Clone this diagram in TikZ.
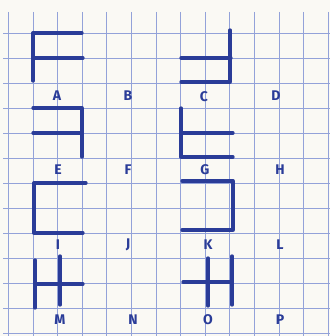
\documentclass[tikz,border=0pt]{standalone}
\usepackage{fontspec}
\setmainfont{Fira Sans}
\definecolor{paper}{HTML}{FAF9F4}
\definecolor{gridblue}{HTML}{93A2D9}
\definecolor{ink}{HTML}{2A3C98}
\tikzset{
  gridline/.style={draw=gridblue, line width=0.9pt},
  pen/.style={draw=ink, line width=3.3pt, line cap=round, line join=round},
  letter/.style={text=ink, font=\fontsize{14}{14}\selectfont\bfseries, inner sep=0pt}
}
\begin{document}
\begin{tikzpicture}[x=1pt,y=-1pt]
\fill[paper] (0,0) rectangle (330,336);
\useasboundingbox (0,0) rectangle (330,336);
% grid
\foreach \i in {0,...,13} {
  \draw[gridline] ({8.4+24.6*\i},12) -- ({8.4+24.6*\i},336);
}
\foreach \j in {1,...,13} {
  \draw[gridline] (3,{8+25*\j}) -- (330,{8+25*\j});
}
% A
\draw[pen] (82,33) -- (33,33) -- (33,81);
\draw[pen] (33,58) -- (83,58);
% E
\draw[pen] (33,108) -- (82,108) -- (82,157);
\draw[pen] (33,133) -- (82,133);
% C
\draw[pen] (230,30) -- (230,82) -- (181,82);
\draw[pen] (181,58) -- (231,58);
% G
\draw[pen] (181,108) -- (181,157) -- (233,157);
\draw[pen] (181,133) -- (233,133);
% I
\draw[pen] (86,183) -- (34,183) -- (34,233) -- (83,233);
% K
\draw[pen] (182,181) -- (233,181) -- (233,230) -- (182,230);
% M
\draw[pen] (35,260) -- (35,308);
\draw[pen] (60,256) -- (60,305);
\draw[pen] (35,284) -- (83,284);
% O
\draw[pen] (208,258) -- (208,306);
\draw[pen] (232,256) -- (232,305);
\draw[pen] (183,282) -- (232,282);
% labels
\node[letter] (lA) at (57,96) {A};
\node[letter] (lB) at (128,96) {B};
\node[letter] (lC) at (204,97) {C};
\node[letter] (lD) at (276,96) {D};
\node[letter] (lE) at (58,170) {E};
\node[letter] (lF) at (128,170) {F};
\node[letter] (lG) at (205,170) {G};
\node[letter] (lH) at (280,170) {H};
\node[letter] (lI) at (58,245) {I};
\node[letter] (lJ) at (128,245) {J};
\node[letter] (lK) at (208,245) {K};
\node[letter] (lL) at (280,245) {L};
\node[letter] (lM) at (60,320) {M};
\node[letter] (lN) at (133,320) {N};
\node[letter] (lO) at (208,320) {O};
\node[letter] (lP) at (280,320) {P};
\end{tikzpicture}
\end{document}
